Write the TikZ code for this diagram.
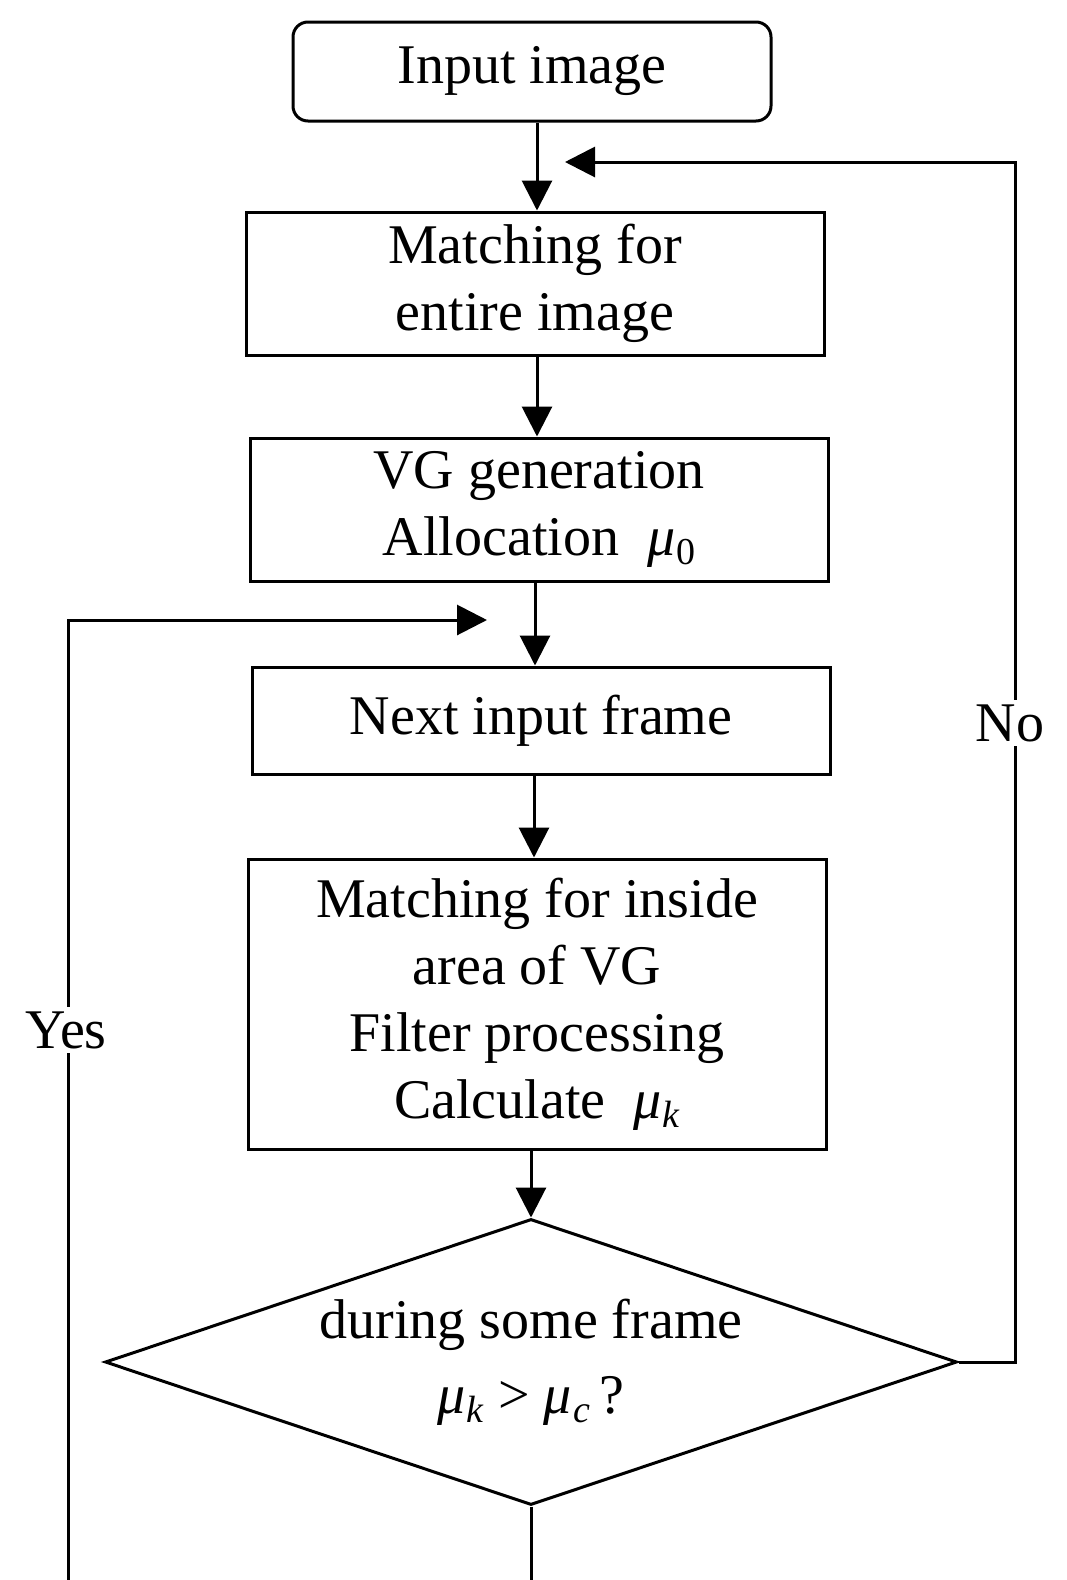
\documentclass[tikz,border=0pt]{standalone}
\usepackage{fontspec}
\setmainfont{Liberation Serif}
\usetikzlibrary{shapes.geometric,arrows.meta}
\newcommand\mymu[1]{\textit{μ}\kern1pt\raisebox{-0.35ex}{\fontsize{38}{38}\selectfont #1}}
\begin{document}
\begin{tikzpicture}[x=1pt,y=-1pt,
  line width=3pt,
  every node/.style={font=\fontsize{56}{67}\selectfont},
  box/.style={draw,rectangle,minimum width=578pt,align=center,inner sep=0pt},
  arr/.style={-{Triangle[length=30pt,width=30pt]}},
  lbl/.style={fill=white,inner sep=4pt}]
\useasboundingbox (0,0) rectangle (1067,1580);
\node[box,rounded corners=15pt,minimum width=478pt,minimum height=99pt] (in) at (532,71.5) {Input image};
\node[box,minimum height=143pt] (b2) at (535,283.5) {Matching for\\entire image};
\node[box,minimum height=143pt] (b3) at (539,509.5) {VG generation\\Allocation\ \ \mymu{0}};
\node[box,minimum height=107pt] (b4) at (541,720.5) {Next input frame};
\node[box,minimum height=290pt] (b5) at (537,1004) {Matching for inside\\area of VG\\Filter processing\\Calculate\ \ \mymu{\textit{k}}};
\node[draw,diamond,aspect=2.98,minimum width=852pt,minimum height=286pt,inner sep=0pt,align=center] (dia) at (531,1362)
  {during some frame\\[8pt]\mymu{\textit{k}} > \mymu{\textit{c}}\,?};
\draw[arr] (in.south -| 537,0) -- (b2.north -| 537,0);
\draw[arr] (b2.south -| 537,0) -- (b3.north -| 537,0);
\draw[arr] (b3.south -| 535,0) -- (b4.north -| 535,0);
\draw[arr] (b4.south -| 534,0) -- (b5.north -| 534,0);
\draw[arr] (b5.south -| dia.north) -- (dia.north);
\coordinate (nocorner) at (1015,162);
\coordinate (fbtip) at (565,162);
\draw[arr] (dia.east) -| (nocorner) -- (fbtip);
\node[lbl] (no) at (1010,723) {No};
\coordinate (yesbot) at (68,1580);
\coordinate (yescorner) at (68,620);
\coordinate (yestip) at (487,620);
\draw[arr] (yesbot) -- (yescorner) -- (yestip);
\node[lbl] (yes) at (66,1030) {Yes};
\coordinate (dbot) at (531,1580);
\draw (dia.south) -- (dbot);
\end{tikzpicture}
\end{document}
